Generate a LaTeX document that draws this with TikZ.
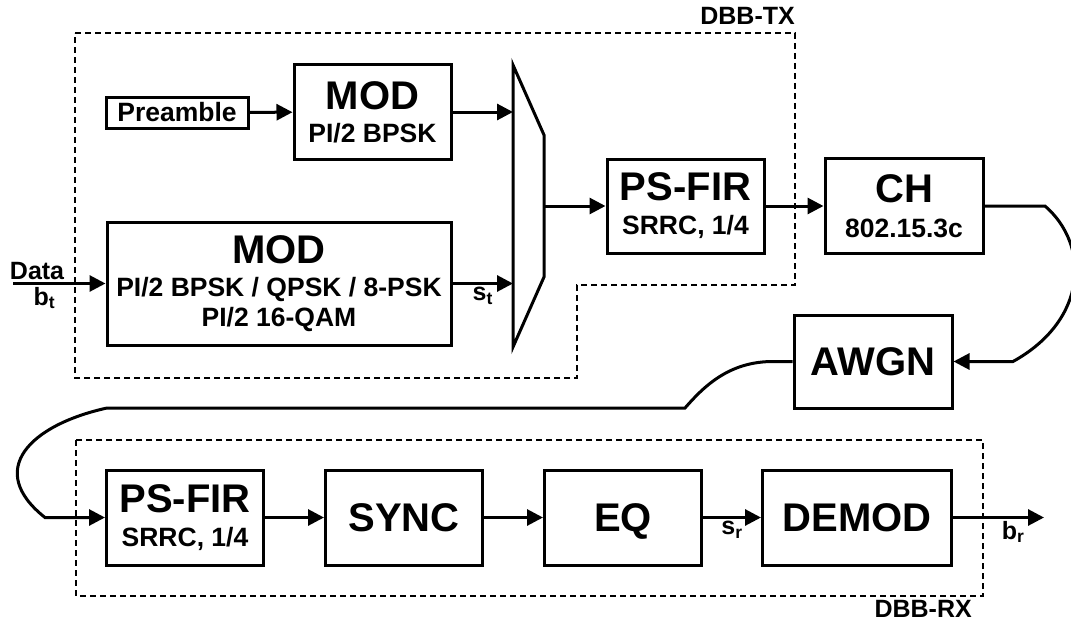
\documentclass[tikz,border=0pt]{standalone}
\usepackage{fontspec}
\setmainfont{Liberation Sans}
\usetikzlibrary{arrows.meta,positioning,calc}

\newcommand{\blkhead}{\fontsize{40}{42}\selectfont}
\newcommand{\blksub}{\fontsize{26.5}{30}\selectfont}
\newcommand{\lblsize}{\fontsize{25}{30}\selectfont}

\tikzset{
  blk/.style={draw, line width=3pt, minimum width=157pt, minimum height=94pt, inner sep=0pt, align=center, font=\bfseries\blksub},
  wire/.style={line width=3pt, -{Triangle[length=16pt,width=16pt]}},
  grp/.style={line width=1.5pt, dash pattern=on 6pt off 4pt},
  lbl/.style={font=\bfseries\lblsize, inner sep=2pt}
}

\begin{document}
\begin{tikzpicture}[x=1pt, y=-1pt]
\useasboundingbox (0,0) rectangle (1071,626);

% Transmitter
\node[blk, minimum width=142pt, minimum height=31pt] (pre) at (177,112.5) {Preamble};
\node[blk] (modA) at (372.5,112) {\blkhead MOD\\[3pt]PI/2 BPSK};
\node[blk, minimum width=344pt, minimum height=123pt] (modB) at (279,283.5)
  {\blkhead MOD\\[3pt]PI/2 BPSK / QPSK / 8-PSK\\PI/2 16-QAM};

% Mux
\draw[line width=3pt] (513,65) -- (544,135) -- (544,277) -- (513,347) -- cycle;
\coordinate (muxA) at (513,112);
\coordinate (muxB) at (513,283.5);
\coordinate (muxO) at (544,206);

\node[blk] (firT) at (685.5,206) {\blkhead PS-FIR\\[4pt]SRRC, 1/4};
\node[blk, minimum width=158pt, minimum height=95pt] (ch) at (904,206) {\blkhead CH\\[5pt]802.15.3c};
\node[blk, minimum width=158pt, minimum height=93pt] (awgn) at (873,361.5) {\blkhead AWGN};

% Receiver
\node[blk, minimum height=95pt] (firR) at (185,517.5) {\blkhead PS-FIR\\[4pt]SRRC, 1/4};
\node[blk, minimum height=95pt, right=59pt of firR] (sync) {\blkhead SYNC};
\node[blk, minimum height=95pt, text depth=0pt, right=59pt of sync] (eq) {\blkhead EQ};
\node[blk, minimum width=189pt, minimum height=95pt, right=58pt of eq] (demod) {\blkhead DEMOD};

% Connections
\coordinate (din) at (13,283.5);
\coordinate (dout) at (1044,517.5);
\coordinate (chA) at (1045,206);
\coordinate (chB) at (1013,361.5);
\coordinate (nzA) at (773,361.5);
\coordinate (nzB) at (685,408);
\coordinate (nzC) at (107,408);
\coordinate (nzD) at (45,517.5);

\draw[wire] (din) -- node[lbl, pos=0.26, above] (data) {Data} node[lbl, pos=0.34, below] (bt) {b\textsubscript{t}} (modB.west);
\draw[wire] (pre) -- (modA);
\draw[wire] (modA) -- (muxA);
\draw[wire] (modB.east) -- node[lbl, below] (st) {s\textsubscript{t}} (muxB);
\draw[wire] (muxO) -- (firT.west |- muxO);
\draw[wire] (firT) -- (ch);
\draw[wire] (ch.east) -- (chA) .. controls (1090,245) and (1088,320) .. (chB) -- (awgn.east);
\draw[wire] (awgn.west) -- (nzA) .. controls (730,361.5) and (705,385) .. (nzB) -- (nzC)
  .. controls (30,425) and (-15,470) .. (nzD) -- (firR.west);
\foreach \a/\b in {firR/sync, sync/eq} \draw[wire] (\a) -- (\b);
\draw[wire] (eq) -- node[lbl, below] (sr) {s\textsubscript{r}} (demod);
\draw[wire] (demod.east) -- node[lbl, pos=0.66, below] (br) {b\textsubscript{r}} (dout);

% Groups
\draw[grp] (75,33) -- (795,33) -- (795,285) -- (577,285) -- (577,378) -- (75,378) -- cycle;
\node[lbl, anchor=base east, inner sep=0pt] (tx) at (795,25) {DBB-TX};
\draw[grp] (76,440) rectangle (983,596);
\node[lbl, anchor=base east, inner sep=0pt] (rx) at (972,617) {DBB-RX};
\end{tikzpicture}
\end{document}
